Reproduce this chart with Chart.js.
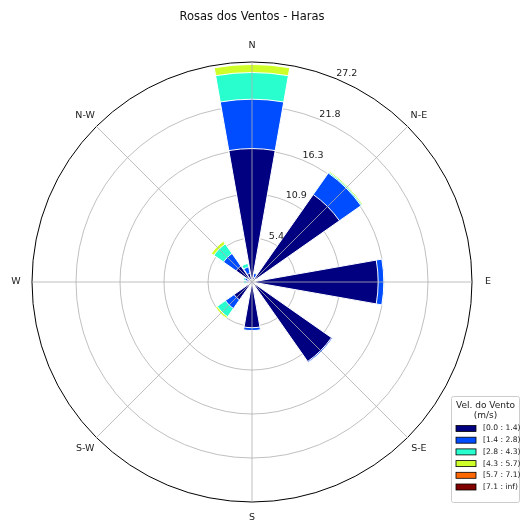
<!DOCTYPE html>
<html lang="pt">
<head>
<meta charset="utf-8">
<title>Rosas dos Ventos - Haras</title>
<script src="https://cdn.jsdelivr.net/npm/chart.js@4.4.1/dist/chart.umd.min.js"></script>
<style>
  html, body { margin: 0; padding: 0; background: #fff; }
  canvas { display: block; }
</style>
</head>
<body>
<canvas id="rosa" width="522" height="521"></canvas>
<script>
/* Rosa dos ventos (16 setores, 6 faixas de velocidade) desenhada com polarArea.
   Cada faixa = um dataset com a frequencia acumulada; o dataset 0 fica por cima. */

// ─── Dados ──────────────────────────────────────────────
const DIRECOES = ['N', 'NNE', 'NE', 'ENE', 'E', 'ESE', 'SE', 'SSE',
                  'S', 'SSW', 'SW', 'WSW', 'W', 'WNW', 'NW', 'NNW'];
const ROTULOS_DIRECAO = ['N', 'N-E', 'E', 'S-E', 'S', 'S-W', 'W', 'N-W']; // a cada 45°
const FAIXAS = ['[0.0 : 1.4)', '[1.4 : 2.8)', '[2.8 : 4.3)', '[4.3 : 5.7)', '[5.7 : 7.1)', '[7.1 : inf)'];
const CORES = ['#000080', '#004cff', '#29ffce', '#ceff29', '#ff6800', '#800000'];

// frequencia (%) de cada faixa por direcao (ordem de DIRECOES)
const FREQ_0 = [16.5, 0.6, 13.2, 0.2, 15.6, 0.2, 12.0, 0.2, 5.65, 0.2, 2.7, 0.2, 0.4, 0.5, 2.4, 1.1];
const FREQ_1 = [6.1, 0.5, 3.25, 0, 0.7, 0, 0.15, 0, 0.35, 0, 1.3, 0, 0.3, 0.4, 1.9, 0.8];
const FREQ_2 = [3.3, 0, 0.15, 0, 0.05, 0, 0, 0, 0, 0, 1.25, 0, 0.3, 0.2, 1.45, 0.45];
const FREQ_3 = [1.0, 0, 0.15, 0, 0, 0, 0, 0, 0, 0, 0.25, 0, 0, 0, 0.4, 0];
const FREQ_4 = [0, 0, 0, 0, 0, 0, 0, 0, 0, 0, 0, 0, 0, 0, 0, 0];
const FREQ_5 = [0, 0, 0, 0, 0, 0, 0, 0, 0, 0, 0, 0, 0, 0, 0, 0];

const TICKS_R = ['5.4', '10.9', '16.3', '21.8', '27.2'];
const R_MAX = 27.2;

// ─── Estilo ─────────────────────────────────────────────
const LARGURA = 20;   // graus de cada barra
const VAO = 22.5 - LARGURA;
const FONTE = "'DejaVu Sans', sans-serif";
const COR_GRADE = '#b0b0b0';

Chart.defaults.font.family = FONTE;
Chart.defaults.color = '#000';

// acumulado por faixa, intercalado com um elemento vazio (o vao entre barras)
const FREQS = [FREQ_0, FREQ_1, FREQ_2, FREQ_3, FREQ_4, FREQ_5];
const acumulado = DIRECOES.map(() => 0);
const datasets = FREQS.map((freq, b) => {
  const data = [];
  freq.forEach((v, d) => {
    acumulado[d] += v;
    data.push(v > 0 ? acumulado[d] : 0); // faixa vazia: a de baixo ja cobre
    data.push(0);
  });
  return {
    label: FAIXAS[b],
    data: data,
    backgroundColor: CORES[b],
    borderColor: '#fff',
    borderWidth: c => (c.raw > 0 ? 1 : 0),
    angle: c => (c.dataIndex % 2 ? VAO : LARGURA),
  };
});
const labels = [];
DIRECOES.forEach(d => { labels.push(d); labels.push(''); });

// ─── Linhas angulares, rotulos e legenda ────────────────
const decoracao = {
  id: 'decoracao',
  afterDatasetsDraw(chart) {
    const r = chart.scales.r;
    const ctx = chart.ctx;
    ctx.save();
    ctx.strokeStyle = COR_GRADE;
    ctx.lineWidth = 0.8;
    ROTULOS_DIRECAO.forEach((_, k) => {
      const a = k * Math.PI / 4;
      ctx.beginPath();
      ctx.moveTo(r.xCenter, r.yCenter);
      ctx.lineTo(r.xCenter + r.drawingArea * Math.sin(a), r.yCenter - r.drawingArea * Math.cos(a));
      ctx.stroke();
    });
    ctx.restore();
  },
  afterDraw(chart) {
    const r = chart.scales.r;
    const ctx = chart.ctx;
    ctx.save();
    ctx.fillStyle = '#222';

    // direcoes
    ctx.font = '9.5px ' + FONTE;
    ctx.textAlign = 'center';
    ctx.textBaseline = 'middle';
    ROTULOS_DIRECAO.forEach((txt, k) => {
      const a = k * Math.PI / 4;
      const d = r.drawingArea + 16;
      ctx.fillText(txt, r.xCenter + d * Math.sin(a), r.yCenter - d * Math.cos(a));
    });

    // valores radiais ao longo de 22.5°
    ctx.textAlign = 'left';
    ctx.textBaseline = 'bottom';
    const a = Math.PI / 8;
    TICKS_R.forEach((txt, i) => {
      const d = r.getDistanceFromCenterForValue(r.ticks[i + 1].value);
      ctx.fillText(txt, r.xCenter + d * Math.sin(a), r.yCenter - d * Math.cos(a));
    });

    // legenda
    const x0 = 451.5, y0 = 396.5, w = 68, h = 106;
    ctx.fillStyle = 'rgba(255,255,255,0.8)';
    ctx.strokeStyle = '#cccccc';
    ctx.lineWidth = 1;
    ctx.beginPath();
    ctx.roundRect(x0, y0, w, h, 2);
    ctx.fill();
    ctx.stroke();

    ctx.fillStyle = '#222';
    ctx.textAlign = 'center';
    ctx.textBaseline = 'middle';
    ctx.font = '9px ' + FONTE;
    ctx.fillText('Vel. do Vento', x0 + w / 2, 406);
    ctx.fillText('(m/s)', x0 + w / 2, 416);

    ctx.textAlign = 'left';
    ctx.font = '7.6px ' + FONTE;
    FAIXAS.forEach((txt, i) => {
      const y = 428.5 + i * 11.7;
      ctx.fillStyle = CORES[i];
      ctx.fillRect(456, y - 3, 20, 6);
      ctx.strokeStyle = '#000';
      ctx.lineWidth = 0.8;
      ctx.strokeRect(456, y - 3, 20, 6);
      ctx.fillStyle = '#222';
      ctx.fillText(txt, 483, y);
    });
    ctx.restore();
  },
};

// ─── Grafico ────────────────────────────────────────────
new Chart(document.getElementById('rosa'), {
  type: 'polarArea',
  data: { labels: labels, datasets: datasets },
  options: {
    responsive: false,
    animation: false,
    events: [],
    layout: { padding: { left: 32, right: 50, top: 0, bottom: 19 } },
    plugins: {
      legend: { display: false },
      tooltip: { enabled: false },
      title: {
        display: true,
        text: 'Rosas dos Ventos - Haras',
        color: '#111',
        font: { family: FONTE, size: 11.5, weight: 'normal' },
        padding: { top: 9.8, bottom: 38.4 },
      },
    },
    scales: {
      r: {
        min: 0,
        max: R_MAX,
        startAngle: -LARGURA / 2, // barra N centrada no norte
        z: 1,                     // grade por cima das barras
        ticks: { display: false, count: TICKS_R.length + 1 },
        grid: {
          color: c => (c.index === TICKS_R.length ? '#000' : COR_GRADE),
          lineWidth: c => (c.index === TICKS_R.length ? 1 : 0.8),
        },
        angleLines: { display: false },
        pointLabels: { display: false },
      },
    },
  },
  plugins: [decoracao],
});
</script>
</body>
</html>
